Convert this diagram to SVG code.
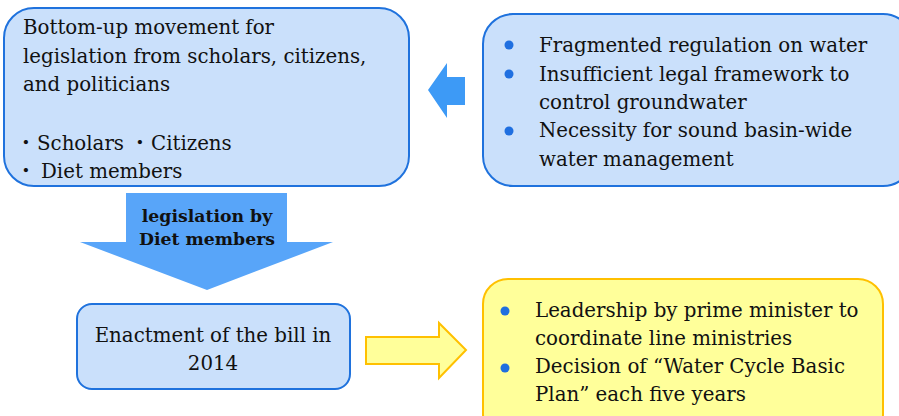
<svg xmlns="http://www.w3.org/2000/svg" width="899" height="416" viewBox="0 0 899 416">
<style>
.bb{fill:#cae0fb;stroke:#1f72dd;stroke-width:2}
.yb{fill:#ffff9a;stroke:#ffc000;stroke-width:2}
.t{font-family:"DejaVu Serif","Liberation Serif",serif;font-size:19.8px;fill:#111}
.tb{font-family:"DejaVu Serif","Liberation Serif",serif;font-size:17.3px;font-weight:bold;fill:#111}
.jp{font-family:"Noto Sans CJK JP",sans-serif}
.dot{fill:#1f6fe0}
.c{text-anchor:middle}
</style>
<rect width="899" height="416" fill="#fff"/>
<g id="connectors">
<polygon id="arrow-left" points="428,90 447,63 447,77 465,77 465,105 447,105 447,118" fill="#3d9af6"/>
<polygon id="arrow-down" points="126,193 287,193 287,242 333,242 207,290 80,242 126,242" fill="#58a5f9"/>
<text class="tb c" x="207" y="222">legislation by</text>
<text class="tb c" x="207" y="245">Diet members</text>
<polygon id="arrow-right" points="366,337 439,337 439,323 466,350 439,378 439,364 366,364" fill="#ffff9a" stroke="#ffc000" stroke-width="2"/>
</g>
<g id="node-bottomup">
<rect class="bb" x="4" y="8" width="405" height="178" rx="30"/>
<text class="t" x="23" y="34">Bottom-up movement for</text>
<text class="t" x="23" y="63">legislation from scholars, citizens,</text>
<text class="t" x="23" y="91">and politicians</text>
<text class="t" y="150"><tspan class="jp" x="16">・</tspan><tspan x="37">Scholars</tspan><tspan class="jp" x="130">・</tspan><tspan x="151">Citizens</tspan></text>
<text class="t" y="178"><tspan class="jp" x="16">・</tspan><tspan x="41">Diet members</tspan></text>
</g>
<g id="node-problems">
<rect class="bb" x="483" y="14" width="430" height="172" rx="30"/>
<circle class="dot" cx="509" cy="45" r="4.5"/>
<circle class="dot" cx="509" cy="74" r="4.5"/>
<circle class="dot" cx="509" cy="131" r="4.5"/>
<text class="t" x="539" y="52">Fragmented regulation on water</text>
<text class="t" x="539" y="81">Insufficient legal framework to</text>
<text class="t" x="539" y="109">control groundwater</text>
<text class="t" x="539" y="137">Necessity for sound basin-wide</text>
<text class="t" x="539" y="166">water management</text>
</g>
<g id="node-enactment">
<rect class="bb" x="77" y="304" width="273" height="85" rx="15"/>
<text class="t c" x="213" y="342">Enactment of the bill in</text>
<text class="t c" x="213" y="370">2014</text>
</g>
<g id="node-results">
<rect class="yb" x="483" y="279" width="400" height="160" rx="25"/>
<circle class="dot" cx="505" cy="311" r="4.5"/>
<circle class="dot" cx="505" cy="368" r="4.5"/>
<text class="t" x="535" y="317">Leadership by prime minister to</text>
<text class="t" x="535" y="345">coordinate line ministries</text>
<text class="t" x="535" y="373">Decision of “Water Cycle Basic</text>
<text class="t" x="535" y="401">Plan” each five years</text>
</g>
</svg>
